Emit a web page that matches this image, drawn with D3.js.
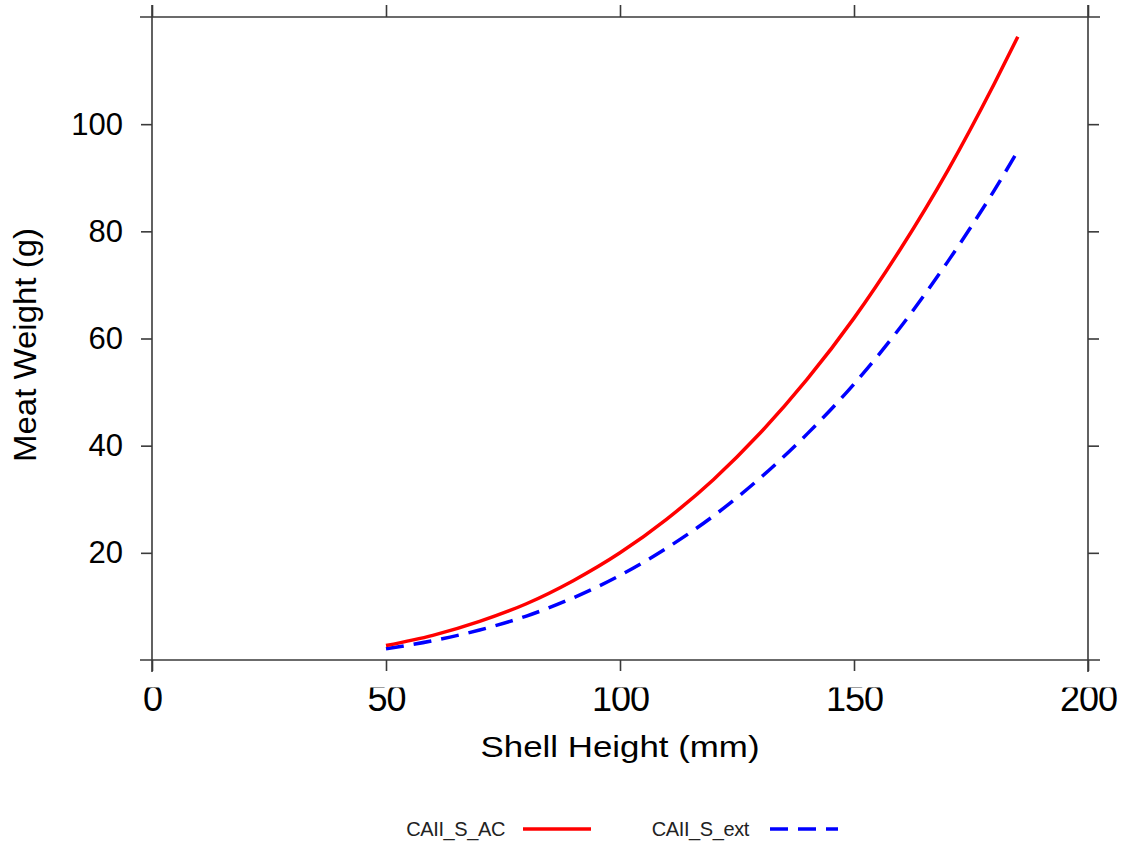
<!DOCTYPE html>
<html>
<head>
<meta charset="utf-8">
<script src="https://cdn.jsdelivr.net/npm/d3@7"></script>
<style>
  body { margin: 0; background: #fff; }
  text { font-family: "Liberation Sans", Arial, sans-serif; fill: #000; }
</style>
</head>
<body>
<div id="chart"></div>
<script>
// Shell height (mm) sampled along each curve
const shellHeight = [50, 60, 70, 80, 90, 100, 110, 120, 130, 140, 150, 160, 170, 180, 185];
// Meat weight (g)
const acWeight = [2.7, 4.6, 7.2, 10.5, 14.8, 20.0, 26.3, 33.7, 42.4, 52.4, 63.8, 76.8, 91.3, 107.6, 116.3];
const extWeight = [2.1, 3.6, 5.6, 8.2, 11.6, 15.8, 20.9, 26.9, 34.0, 42.2, 51.5, 62.2, 74.3, 87.7, 95.0];

const seriesNames = ['CAII_S_AC', 'CAII_S_ext'];
const xTicks = [0, 50, 100, 150, 200];
const yTicks = [20, 40, 60, 80, 100];

const margin = { top: 17, right: 36, bottom: 185, left: 152 };
const width = 1124;
const height = 845;
const w = width - margin.left - margin.right;
const h = height - margin.top - margin.bottom;

const svg = d3.select('#chart')
  .append('svg')
  .attr('width', width)
  .attr('height', height);

const g = svg.append('g')
  .attr('transform', `translate(${margin.left}, ${margin.top})`);

const xScale = d3.scaleLinear().domain([0, 200]).range([0, w]);
const yScale = d3.scaleLinear().domain([0, 120]).range([h, 0]);

const axisColor = '#3a3a3a';
const ext = 12;

// frame lines, a bit longer than the plot box
const frame = [
  [xScale(0), yScale(0) + ext, xScale(0), yScale(120) - ext],
  [xScale(200), yScale(0) + ext, xScale(200), yScale(120) - ext],
  [xScale(0) - ext, yScale(0), xScale(200) + ext, yScale(0)],
  [xScale(0) - ext, yScale(120), xScale(200) + ext, yScale(120)],
];
g.selectAll('.frame')
  .data(frame)
  .join('line')
  .attr('class', 'frame')
  .attr('x1', (d) => d[0])
  .attr('y1', (d) => d[1])
  .attr('x2', (d) => d[2])
  .attr('y2', (d) => d[3])
  .attr('stroke', axisColor)
  .attr('stroke-width', 1.6);

// the bottom tick labels are cut at the top in the original
svg.append('defs').append('clipPath')
  .attr('id', 'xlabclip')
  .append('rect')
  .attr('x', -60)
  .attr('y', 27.5)
  .attr('width', 120)
  .attr('height', 60);

const xAxis = d3.axisBottom(xScale).tickValues(xTicks).tickSize(11).tickPadding(14);
const xg = g.append('g')
  .attr('transform', `translate(0, ${h})`)
  .call(xAxis);
xg.select('.domain').remove();
xg.selectAll('.tick line').attr('stroke', axisColor).attr('stroke-width', 1.6);
xg.selectAll('.tick text')
  .attr('clip-path', 'url(#xlabclip)')
  .style('font-size', '36px')
  .style('letter-spacing', '-1px')
  .attr('font-family', null);

const topAxis = d3.axisTop(xScale).tickValues(xTicks).tickSize(12).tickFormat('');
const tg = g.append('g').call(topAxis);
tg.select('.domain').remove();
tg.selectAll('.tick line').attr('stroke', axisColor).attr('stroke-width', 1.6);

const yAxis = d3.axisLeft(yScale).tickValues(yTicks).tickSize(11).tickPadding(18);
const yg = g.append('g').call(yAxis);
yg.select('.domain').remove();
yg.selectAll('.tick line').attr('stroke', axisColor).attr('stroke-width', 1.6);
yg.selectAll('.tick text')
  .style('font-size', '31px')
  .attr('font-family', null);

const rightAxis = d3.axisRight(yScale).tickValues(yTicks).tickSize(11).tickFormat('');
const rg = g.append('g').attr('transform', `translate(${w}, 0)`).call(rightAxis);
rg.select('.domain').remove();
rg.selectAll('.tick line').attr('stroke', axisColor).attr('stroke-width', 1.6);

// axis titles
svg.append('text')
  .attr('x', margin.left + xScale(100))
  .attr('y', 757)
  .attr('text-anchor', 'middle')
  .attr('textLength', 279)
  .attr('lengthAdjust', 'spacingAndGlyphs')
  .style('font-size', '30px')
  .text('Shell Height (mm)');

svg.append('text')
  .attr('transform', 'translate(36, 345) rotate(-90)')
  .attr('text-anchor', 'middle')
  .attr('textLength', 234)
  .attr('lengthAdjust', 'spacingAndGlyphs')
  .style('font-size', '31px')
  .text('Meat Weight (g)');

// curves
const line = d3.line()
  .x((d) => xScale(d[0]))
  .y((d) => yScale(d[1]))
  .curve(d3.curveMonotoneX);

const acData = shellHeight.map((s, i) => [s, acWeight[i]]);
const extData = shellHeight.map((s, i) => [s, extWeight[i]]);

g.append('path')
  .datum(extData)
  .attr('d', line)
  .attr('fill', 'none')
  .attr('stroke', '#0000ff')
  .attr('stroke-width', 3.5)
  .attr('stroke-dasharray', '18,10');

g.append('path')
  .datum(acData)
  .attr('d', line)
  .attr('fill', 'none')
  .attr('stroke', '#ff0000')
  .attr('stroke-width', 3.5);

// legend
const legendItems = [
  { name: seriesNames[0], color: '#ff0000', dash: null, tx: 505, lx: 523 },
  { name: seriesNames[1], color: '#0000ff', dash: '18,10', tx: 749, lx: 770 },
];
const legend = svg.append('g');
legendItems.forEach((d) => {
  legend.append('text')
    .attr('x', d.tx)
    .attr('y', 836)
    .attr('text-anchor', 'end')
    .style('font-size', '20px')
    .style('letter-spacing', '-0.4px')
    .style('fill', '#222')
    .text(d.name);
  legend.append('line')
    .attr('x1', d.lx)
    .attr('x2', d.lx + 68)
    .attr('y1', 829)
    .attr('y2', 829)
    .attr('stroke', d.color)
    .attr('stroke-width', 3.5)
    .attr('stroke-dasharray', d.dash);
});
</script>
</body>
</html>
